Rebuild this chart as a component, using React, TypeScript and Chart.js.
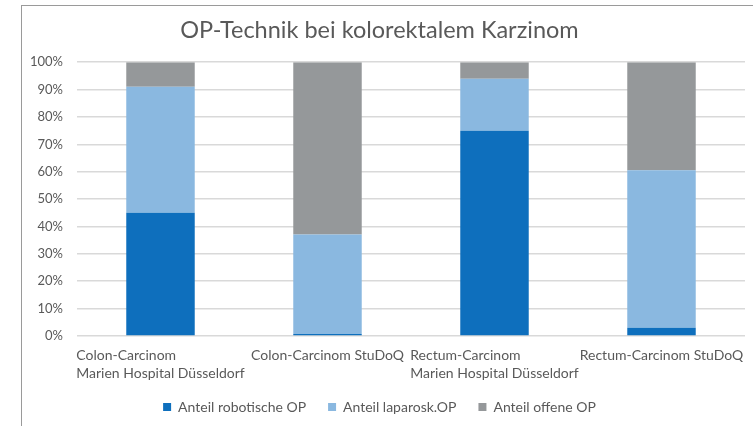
import React, { useEffect, useRef } from "react";
import { Chart, registerables } from "chart.js";

Chart.register(...registerables);

const title = "OP-Technik bei kolorektalem Karzinom";
const categories: string[][] = [
  ["Colon-Carcinom", "Marien Hospital Düsseldorf"],
  ["Colon-Carcinom StuDoQ"],
  ["Rectum-Carcinom", "Marien Hospital Düsseldorf"],
  ["Rectum-Carcinom StuDoQ"],
];
const seriesNames = ["Anteil robotische OP", "Anteil laparosk.OP", "Anteil offene OP"];
const robotisch = [45, 0.7, 75, 3];
const laparosk = [46, 36.4, 19, 57.5];
const offen = [9, 62.9, 6, 39.5];
const yTicks = [0, 10, 20, 30, 40, 50, 60, 70, 80, 90, 100];

const colors = ["#0E6FBD", "#8AB8E0", "#95989A"];
const textColor = "#595959";
const fontFamily = "Lato, 'Open Sans', sans-serif";

const xLabelPlugin = {
  id: "xLabelPlugin",
  afterDraw(chart: any) {
    const { ctx, chartArea } = chart;
    const x = chart.scales.x;
    ctx.save();
    ctx.font = `14px ${fontFamily}`;
    ctx.fillStyle = textColor;
    ctx.textBaseline = "middle";
    ctx.textAlign = "left";
    categories.forEach((lines, i) => {
      const cx = x.getPixelForTick(i);
      const w = Math.max(...lines.map((l) => ctx.measureText(l).width));
      const left = cx - w / 2;
      lines.forEach((l, j) => ctx.fillText(l, left, chartArea.bottom + 19 + j * 18.5));
    });
    ctx.restore();
  },
};

export default function App() {
  const ref = useRef<HTMLCanvasElement>(null);
  useEffect(() => {
    if (!ref.current) return;
    const data = [robotisch, laparosk, offen];
    const chart = new Chart(ref.current, {
      type: "bar",
      data: {
        labels: categories.map((c) => c.join(" ")),
        datasets: seriesNames.map((name, i) => ({
          label: name,
          data: data[i],
          backgroundColor: colors[i],
          borderWidth: 0,
          barPercentage: 0.41,
          categoryPercentage: 1,
        })),
      },
      options: {
        responsive: false,
        animation: false,
        layout: { padding: { left: 14, right: 8, top: 0, bottom: 2 } },
        plugins: {
          title: {
            display: true,
            text: title,
            color: textColor,
            font: { family: fontFamily, size: 23.5, weight: "normal" },
            padding: { top: 16, bottom: 18 },
          },
          legend: {
            position: "bottom",
            labels: {
              color: textColor,
              font: { family: fontFamily, size: 14 },
              boxWidth: 8,
              boxHeight: 8,
              padding: 22,
            },
          },
          tooltip: { enabled: false },
        },
        scales: {
          x: {
            stacked: true,
            grid: { display: false },
            border: { display: false },
            ticks: { display: false },
            afterFit: (s: any) => {
              s.height = 42;
            },
          },
          y: {
            stacked: true,
            min: 0,
            max: 100,
            afterBuildTicks: (s: any) => {
              s.ticks = yTicks.map((v) => ({ value: v }));
            },
            grid: { color: "#d9d9d9", lineWidth: 1.5, drawTicks: false },
            border: { display: false },
            ticks: {
              color: textColor,
              font: { family: fontFamily, size: 13 },
              padding: 14,
              callback: (v: any) => `${v}%`,
            },
            afterFit: (s: any) => {
              s.width = 63;
            },
          },
        },
      },
      plugins: [xLabelPlugin],
    });
    return () => chart.destroy();
  }, []);
  return (
    <div style={{ position: "fixed", left: 0, top: 0, width: 753, height: 426, background: "#fff", overflow: "hidden" }}>
      <div
        style={{
          position: "absolute",
          left: 21,
          top: 5,
          width: 800,
          height: 500,
          borderLeft: "1.5px solid #9a9a9a",
          borderTop: "1.5px solid #9a9a9a",
        }}
      />
      <canvas ref={ref} width={753} height={426} style={{ position: "absolute", left: 0, top: 0 }} />
    </div>
  );
}
